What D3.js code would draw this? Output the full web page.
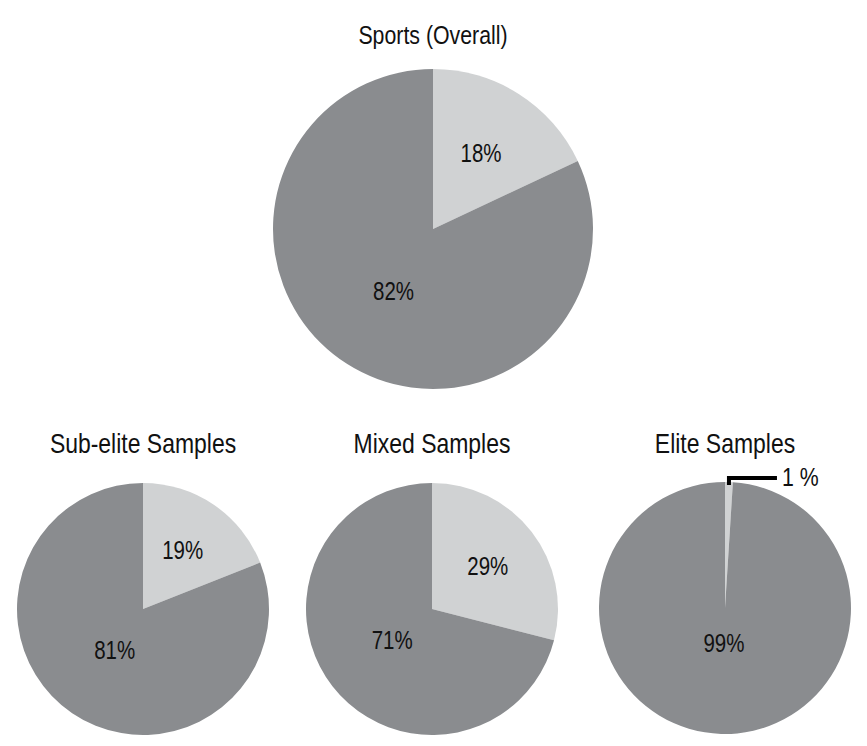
<!DOCTYPE html>
<html>
<head>
<meta charset="utf-8">
<script src="https://cdn.jsdelivr.net/npm/d3@7"></script>
<style>
  body { margin: 0; background: #fff; }
  svg text { font-family: "Liberation Sans", Arial, sans-serif; fill: #111; }
</style>
</head>
<body>
<div id="chart"></div>
<script>
// Pie chart data: share of studies (light) vs the rest (dark)
var titles = ["Sports (Overall)", "Sub-elite Samples", "Mixed Samples", "Elite Samples"];
var lightShare = [18, 19, 29, 1];
var darkShare = [82, 81, 71, 99];

var width = 867;
var height = 746;
var colors = ["#d0d2d3", "#8a8c8f"];
// narrow look: squeeze the regular sans horizontally
var squeeze = 0.82;

// Layout for each pie: center, radius, title, label distance of the big slice
var layout = [
  { cx: 433, cy: 229, r: 160, titleY: 35, titleSize: 26, majorK: 0.46 },
  { cx: 143, cy: 609, r: 126, titleY: 443, titleSize: 28, majorK: 0.4 },
  { cx: 432, cy: 609, r: 126, titleY: 443, titleSize: 28, majorK: 0.4 },
  { cx: 725, cy: 608, r: 126, titleY: 443, titleSize: 28, majorK: 0.28 }
];

var svg = d3
  .select("#chart")
  .append("svg")
  .attr("width", width)
  .attr("height", height);

var pie = d3.pie().sort(null).value(function(d) { return d; });

// helper: narrow text at x,y
function addText(parent, x, y, str, size, anchor) {
  return parent.append("text")
    .attr("transform", "translate(" + x + "," + y + ") scale(" + squeeze + ",1)")
    .attr("text-anchor", anchor || "middle")
    .attr("dominant-baseline", "central")
    .attr("font-size", size)
    .text(str);
}

titles.forEach(function(title, i) {
  var L = layout[i];
  var values = [lightShare[i], darkShare[i]];
  var arcs = pie(values);
  var arc = d3.arc().innerRadius(0).outerRadius(L.r);

  var g = svg.append("g").attr("transform", "translate(" + L.cx + "," + L.cy + ")");

  g.selectAll("path")
    .data(arcs)
    .enter()
    .append("path")
    .attr("d", arc)
    .attr("fill", function(d, j) { return colors[j]; });

  // Title above pie
  addText(svg, L.cx, L.titleY, title, L.titleSize);

  arcs.forEach(function(d, j) {
    var pct = values[j];
    var mid = (d.startAngle + d.endAngle) / 2;
    if (pct < 5) {
      // tiny slice: leader line to the right
      var px = Math.sin(mid) * L.r;
      var py = -Math.cos(mid) * L.r;
      g.append("path")
        .attr("d", "M" + px + "," + (py + 3) + "V" + (py - 4) + "H" + (px + 48))
        .attr("fill", "none")
        .attr("stroke", "#000")
        .attr("stroke-width", 4);
      addText(g, px + 53, py - 5, pct + " %", 26, "start");
    } else {
      var k = j === 0 ? 0.56 : L.majorK;
      addText(g, Math.sin(mid) * L.r * k, -Math.cos(mid) * L.r * k, pct + "%", 25);
    }
  });
});
</script>
</body>
</html>
